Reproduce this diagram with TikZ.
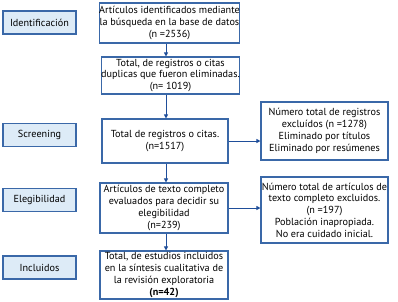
\documentclass[tikz,border=0pt]{standalone}
\usepackage{fontspec}
\setmainfont{PT Sans}
\usetikzlibrary{arrows.meta}
\definecolor{bordblue}{HTML}{3A68A8}
\definecolor{arrblue}{HTML}{1F4E9A}
\definecolor{fillblue}{HTML}{DDEBF7}
\begin{document}
\begin{tikzpicture}[x=1pt,y=-1pt,
  phase/.style={draw=bordblue,fill=fillblue,line width=1.1pt,inner sep=0pt,
    minimum width=73pt,minimum height=23pt,font=\fontsize{10.2}{12}\selectfont},
  mbox/.style={draw=bordblue,fill=white,line width=1.1pt,inner sep=0pt,align=center,
    font=\fontsize{10.2}{11.8}\selectfont},
  arr/.style={draw=arrblue,line width=0.9pt,-{Triangle[length=4pt,width=4pt]}}]
\useasboundingbox (0,0) rectangle (398,301);
% phase labels
\node[phase] (p1) at (39.5,22.5) {Identificación};
\node[phase] (p2) at (39.5,135) {Screening};
\node[phase] (p3) at (39.5,200) {Elegibilidad};
\node[phase] (p4) at (39.5,267.5) {Incluidos};
% middle column
\node[mbox,minimum width=139pt,minimum height=40pt] (b1) at (169.5,23)
  {Artículos identificados mediante\\la búsqueda en la base de datos\\(n =2536)};
\node[mbox,minimum width=137pt,minimum height=37pt] (b2) at (170.5,75.5)
  {Total, de registros o citas\\duplicas que fueron eliminadas.\\(n= 1019)};
\node[mbox,minimum width=126pt,minimum height=44pt] (b3) at (165,141)
  {Total de registros o citas.\\(n=1517)};
\node[mbox,minimum width=128pt,minimum height=50pt] (b4) at (164,208)
  {Artículos de texto completo\\evaluados para decidir su\\elegibilidad\\(n=239)};
\node[mbox,minimum width=128pt,minimum height=48pt] (b5) at (164,275)
  {Total, de estudios incluidos\\en la síntesis cualitativa de\\la revisión exploratoria\\\textbf{(n=42)}};
% right column
\node[mbox,minimum width=127pt,minimum height=58pt] (r1) at (324.5,131)
  {Número total de registros\\excluídos (n =1278)\\Eliminado por títulos\\Eliminado por resúmenes};
\node[mbox,minimum width=127pt,minimum height=66pt] (r2) at (324.5,210)
  {Número total de artículos de\\texto completo excluidos.\\(n =197)\\Población inapropiada.\\No era cuidado inicial.};
% connectors
\coordinate (ax) at (166,0);
\draw[arr] (b1.south -| ax) -- (b2.north -| ax);
\draw[arr] (b2.south -| ax) -- (b3.north -| ax);
\draw[arr] (b3.south -| ax) -- (b4.north -| ax);
\draw[arr] (b4.south -| ax) -- (b5.north -| ax);
\draw[arr] (b3.east) -- (b3.east -| r1.west);
\draw[arr] (b4.east) -- (b4.east -| r2.west);
\end{tikzpicture}
\end{document}
